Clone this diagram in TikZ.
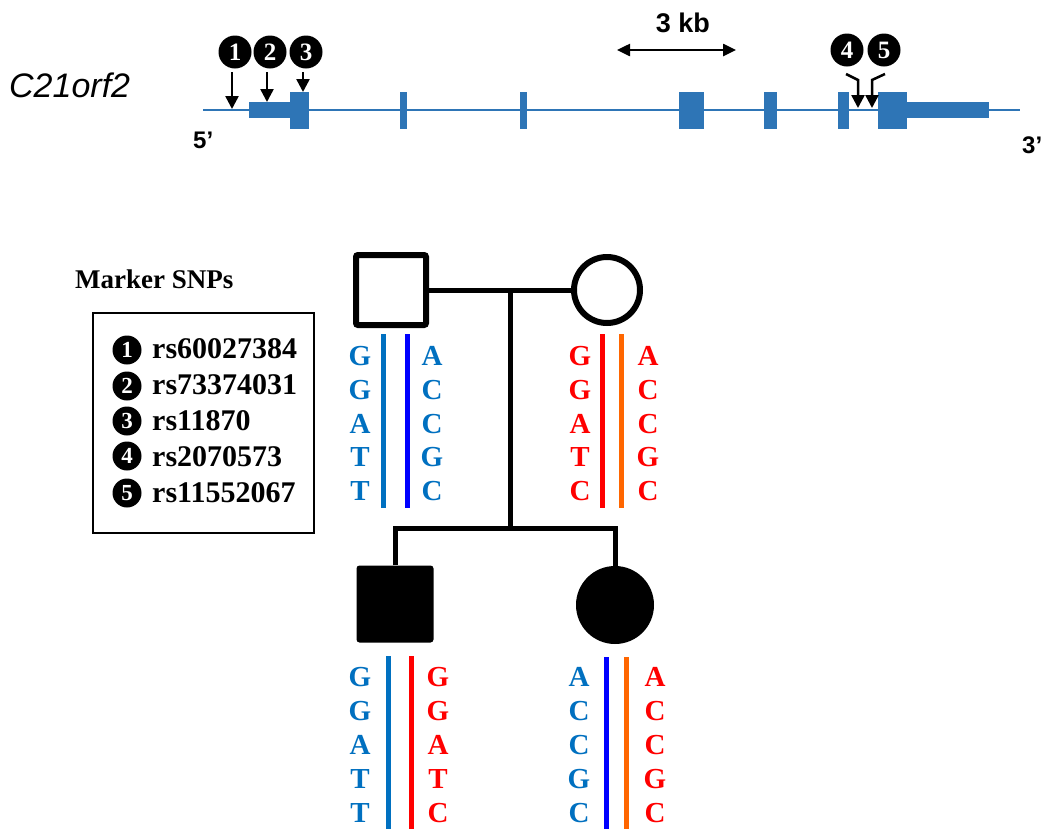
\documentclass[tikz,border=0pt]{standalone}
\usepackage{fontspec}
\setmainfont{Liberation Serif}
\setsansfont{Liberation Sans}
\usetikzlibrary{arrows.meta}
\definecolor{genecol}{HTML}{2E75B6}
\definecolor{hapsteel}{HTML}{0070C0}
\definecolor{hapblue}{HTML}{0000FF}
\definecolor{hapred}{HTML}{FF0000}
\definecolor{haporange}{HTML}{FF6600}

\begin{document}
\begin{tikzpicture}[x=1pt,y=-1pt,
  snpnum/.style={circle, fill=black, inner sep=0pt, minimum size=33pt, text=white,
    font=\fontsize{25}{25}\selectfont\bfseries},
  legnum/.style={circle, fill=black, inner sep=0pt, minimum size=29pt, text=white,
    font=\fontsize{23}{23}\selectfont\bfseries},
  pin/.style={line width=2.5pt, -{Triangle[width=13pt,length=13pt]}},
  scalebar/.style={line width=2.5pt, {Triangle[width=12pt,length=13pt]}-{Triangle[width=12pt,length=13pt]}},
  exon/.style={fill=genecol},
  glabel/.style={font=\sffamily\bfseries\fontsize{24}{24}\selectfont, inner sep=0pt},
  allele/.style={font=\bfseries\fontsize{29}{29}\selectfont, inner sep=0pt},
  legtext/.style={font=\bfseries\fontsize{30}{30}\selectfont, inner sep=0pt, anchor=base west},
  hap/.style={line width=5pt},
  ped/.style={line width=5pt}
]
\clip (0,0) rectangle (1042,828);
\fill[white] (0,0) rectangle (1042,828);

% ---------- gene model ----------
\node[font=\sffamily\itshape\fontsize{34}{34}\selectfont, anchor=base west, inner sep=0pt] (gname) at (9,97) {C21orf2};
\draw[genecol, line width=2.5pt] (203,110) -- (1020,110);
\fill[exon] (249,102) rectangle (290,118);
\fill[exon] (290,92) rectangle (309,129);
\fill[exon] (400,92) rectangle (407,129);
\fill[exon] (520,92) rectangle (527,129);
\fill[exon] (679,92) rectangle (704,129);
\fill[exon] (764,92) rectangle (777,129);
\fill[exon] (838,92) rectangle (849,129);
\fill[exon] (878,92) rectangle (907,129);
\fill[exon] (907,102) rectangle (989,118);
\node[glabel, anchor=base west] (five) at (193,148) {5’};
\node[glabel, anchor=base west] (three) at (1022,153) {3’};

% scale bar
\node[glabel, font=\sffamily\bfseries\fontsize{27}{27}\selectfont] (kb) at (683,23) {3 kb};
\coordinate (kbL) at (617,50);
\coordinate (kbR) at (736,50);
\draw[scalebar] (kbL) -- (kbR);

% SNP positions
\node[snpnum] (s1) at (235,52) {1};
\node[snpnum] (s2) at (270,52) {2};
\node[snpnum] (s3) at (306,52) {3};
\node[snpnum] (s4) at (847,50) {4};
\node[snpnum] (s5) at (884,50) {5};
\coordinate (p1) at (232,109);
\coordinate (p2) at (267,102);
\coordinate (p3) at (303,92);
\coordinate (p4) at (858,108);
\coordinate (p5) at (872,108);
\draw[pin] (232,72) -- (p1);
\draw[pin] (267,72) -- (p2);
\draw[pin] (303,72) -- (p3);
\draw[pin] (846,74) -- (858,80) -- (p4);
\draw[pin] (885,74) -- (872,80) -- (p5);

% ---------- legend ----------
\node[font=\bfseries\fontsize{27}{27}\selectfont, anchor=base west, inner sep=0pt] (legtitle) at (75,288) {Marker SNPs};
\draw[line width=2pt] (93,313) rectangle (314,533);
\node[legnum] (l1) at (127,350) {1};
\node[legnum] (l2) at (127,386) {2};
\node[legnum] (l3) at (127,421) {3};
\node[legnum] (l4) at (127,456) {4};
\node[legnum] (l5) at (127,493) {5};
\node[legtext] (r1) at (152,358) {rs60027384};
\node[legtext] (r2) at (152,394) {rs73374031};
\node[legtext] (r3) at (152,430) {rs11870};
\node[legtext] (r4) at (152,466) {rs2070573};
\node[legtext] (r5) at (152,502) {rs11552067};

% ---------- pedigree ----------
\node[draw, line width=6pt, inner sep=0pt, minimum size=70pt, rounded corners=2pt] (father) at (391,290) {};
\node[draw, circle, line width=6pt, inner sep=0pt, minimum size=66pt] (mother) at (607,290) {};
\node[fill=black, inner sep=0pt, minimum size=77pt, rounded corners=3pt] (son) at (395,604) {};
\node[fill=black, circle, inner sep=0pt, minimum size=78pt] (daughter) at (615,605) {};
\coordinate (mid) at (510,290);
\coordinate (sib) at (510,528);
\draw[ped] (father.east) -- (mother.west);
\draw[ped] (mid) -- (sib);
\draw[ped] (son.north) -- (son.north |- sib) -- (daughter.north |- sib) -- (daughter.north);

% ---------- haplotypes ----------
% father
\draw[hap, hapsteel] (383,334) -- (383,508);
\draw[hap, hapblue] (407,334) -- (407,508);
\foreach \b [count=\i] in {G,G,A,T,T}
  \node[allele, text=hapsteel] (fa\i) at (360,{356+33.8*(\i-1)}) {\b};
\foreach \b [count=\i] in {A,C,C,G,C}
  \node[allele, text=hapsteel] (fb\i) at (432,{356+33.8*(\i-1)}) {\b};
% mother
\draw[hap, hapred] (602,334) -- (602,508);
\draw[hap, haporange] (621,334) -- (621,508);
\foreach \b [count=\i] in {G,G,A,T,C}
  \node[allele, text=hapred] (ma\i) at (580,{356+33.8*(\i-1)}) {\b};
\foreach \b [count=\i] in {A,C,C,G,C}
  \node[allele, text=hapred] (mb\i) at (648,{356+33.8*(\i-1)}) {\b};
% son
\draw[hap, hapsteel] (388,656) -- (388,830);
\draw[hap, hapred] (411,656) -- (411,830);
\foreach \b [count=\i] in {G,G,A,T,T}
  \node[allele, text=hapsteel] (sa\i) at (360,{677+34*(\i-1)}) {\b};
\foreach \b [count=\i] in {G,G,A,T,C}
  \node[allele, text=hapred] (sb\i) at (438,{677+34*(\i-1)}) {\b};
% daughter
\draw[hap, hapblue] (606,657) -- (606,830);
\draw[hap, haporange] (626,657) -- (626,830);
\foreach \b [count=\i] in {A,C,C,G,C}
  \node[allele, text=hapsteel] (da\i) at (579,{677+34*(\i-1)}) {\b};
\foreach \b [count=\i] in {A,C,C,G,C}
  \node[allele, text=hapred] (db\i) at (655,{677+34*(\i-1)}) {\b};
\end{tikzpicture}
\end{document}
